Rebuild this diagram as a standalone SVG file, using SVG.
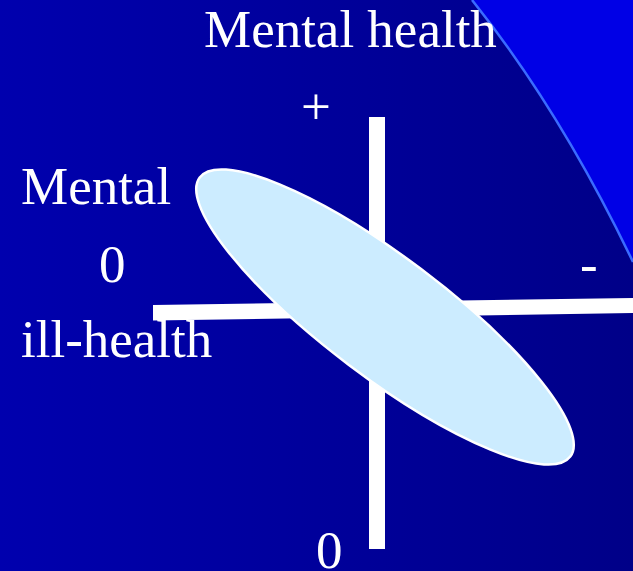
<svg xmlns="http://www.w3.org/2000/svg" width="633" height="571" viewBox="0 0 633 571">
<defs>
<linearGradient id="bg" x1="0" y1="0" x2="1" y2="0">
<stop offset="0" stop-color="#0000AE"/>
<stop offset="1" stop-color="#000088"/>
</linearGradient>
<style>
text{font-family:"Liberation Serif","Times New Roman",serif;font-size:53px;fill:#fff}
.bar{fill:#fff}
</style>
</defs>
<rect width="633" height="571" fill="url(#bg)"/>
<path d="M472,0 Q560,110 633,262 L633,0 Z" fill="#0000E6"/>
<path d="M472,0 Q560,110 633,262" fill="none" stroke="#3A6BFF" stroke-width="2.5"/>
<g id="axes">
<rect id="vaxis" class="bar" x="369" y="117" width="16" height="432"/>
<polygon id="haxis" class="bar" points="153,305 633,298 633,313 153,320.5"/>
</g>
<g id="ellipse">
<ellipse cx="385" cy="317" rx="232" ry="60" transform="rotate(37 385 317)" fill="#CCECFF" stroke="#fff" stroke-width="2.5"/>
</g>
<g id="labels">
<text x="204" y="47">Mental health</text>
<text x="301" y="124" font-size="50">+</text>
<text x="21" y="204">Mental</text>
<text x="99" y="282">0</text>
<text x="21" y="357">ill-health</text>
<text x="580" y="282" font-size="58">-</text>
<text x="316" y="568">0</text>
</g>
</svg>
